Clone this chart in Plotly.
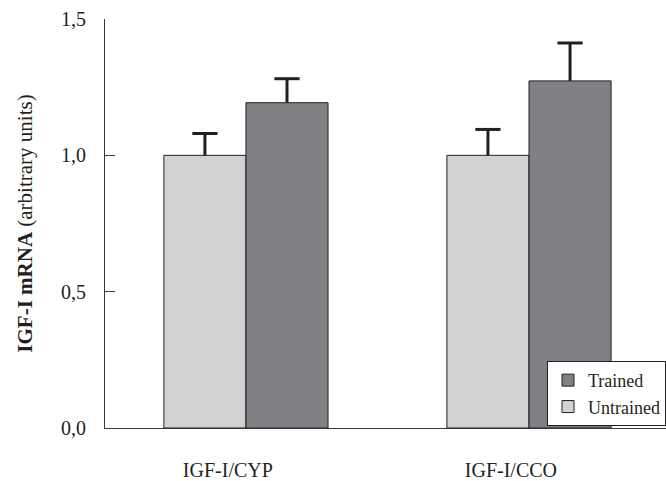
import plotly.graph_objects as go

categories = ["IGF-I/CYP", "IGF-I/CCO"]
untrained = [1.00, 1.00]
untrained_err = [0.08, 0.095]
trained = [1.193, 1.273]
trained_err = [0.088, 0.139]
ytick_vals = [0.0, 0.5, 1.0, 1.5]
ytick_text = ["0,0", "0,5", "1,0", "1,5"]

font_family = "Liberation Serif, Times New Roman, serif"
edge = "#231f20"
bar_w = 0.29
label_shift = 0.064

xpos = list(range(len(categories)))

fig = go.Figure()
fig.add_trace(go.Bar(
    name="Untrained", x=xpos, y=untrained, width=bar_w, offset=-bar_w,
    marker=dict(color="#d1d2d4", line=dict(color=edge, width=1)),
    error_y=dict(type="data", array=untrained_err, symmetric=False,
                 arrayminus=[0] * len(xpos), color=edge, thickness=3, width=0),
))
fig.add_trace(go.Bar(
    name="Trained", x=xpos, y=trained, width=bar_w, offset=0,
    marker=dict(color="#808184", line=dict(color=edge, width=1)),
    error_y=dict(type="data", array=trained_err, symmetric=False,
                 arrayminus=[0] * len(xpos), color=edge, thickness=3, width=0),
))
# error bar caps (upper only)
fig.add_trace(go.Scatter(
    x=[p - bar_w / 2 for p in xpos] + [p + bar_w / 2 for p in xpos],
    y=[v + e for v, e in zip(untrained, untrained_err)]
      + [v + e for v, e in zip(trained, trained_err)],
    mode="markers", showlegend=False, hoverinfo="skip",
    marker=dict(symbol="line-ew", size=18, line=dict(color=edge, width=3)),
))

fig.update_layout(
    width=666, height=481,
    margin=dict(l=105, r=0, t=19, b=47),
    paper_bgcolor="white", plot_bgcolor="white",
    barmode="overlay",
    font=dict(family=font_family, size=20, color="#231f20"),
    showlegend=True,
    legend=dict(
        x=1, xanchor="right", y=0.005, yanchor="bottom",
        traceorder="reversed",
        bgcolor="white", bordercolor=edge, borderwidth=1,
        font=dict(family=font_family, size=18, color="#231f20"),
        tracegroupgap=0,
    ),
    xaxis=dict(
        range=[-0.498, 1.484], showline=True, linecolor="#3a3a3a", linewidth=1,
        ticks="", showgrid=False, zeroline=False,
        tickvals=[p - label_shift for p in xpos], ticktext=categories,
        tickfont=dict(size=20), ticklabelstandoff=24,
    ),
    yaxis=dict(
        range=[0, 1.5], showline=True, linecolor="#3a3a3a", linewidth=1,
        ticks="inside", ticklen=10, tickcolor="#3a3a3a",
        tickvals=ytick_vals, ticktext=ytick_text,
        showgrid=False, zeroline=False,
        tickfont=dict(size=20), ticklabelstandoff=14,
        title=dict(text="<b>IGF-I mRNA</b> (arbitrary units)",
                   font=dict(size=21), standoff=22),
    ),
)

fig.write_html(
    "out.html",
    config={"displayModeBar": False},
    post_script="document.body.style.margin='0';document.body.style.overflow='hidden';",
)
